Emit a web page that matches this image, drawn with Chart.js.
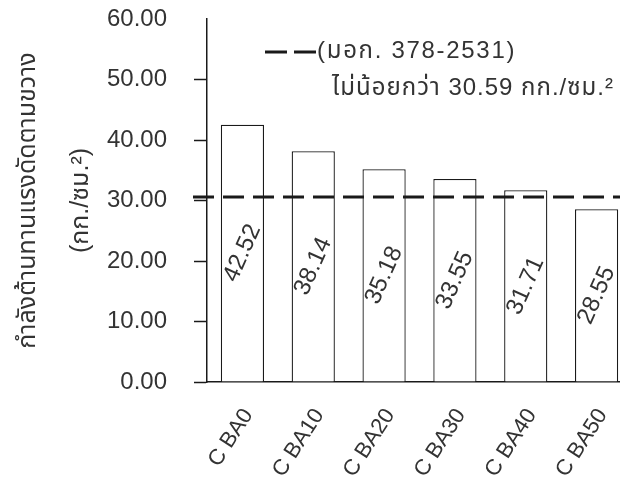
<!DOCTYPE html>
<html>
<head>
<meta charset="utf-8">
<script src="https://cdn.jsdelivr.net/npm/chart.js@4/dist/chart.umd.min.js"></script>
<style>
  html, body { margin: 0; padding: 0; background: #fff; overflow: hidden; }
  canvas { display: block; }
</style>
</head>
<body>
<canvas id="c" width="632" height="491"></canvas>
<script>
// Transverse (flexural) strength of the CBA mixes
const categories = ['C BA0', 'C BA10', 'C BA20', 'C BA30', 'C BA40', 'C BA50'];
const strengthValues = [42.52, 38.14, 35.18, 33.55, 31.71, 28.55];
const yTickValues = [0, 10, 20, 30, 40, 50, 60];
const standardValue = 30.59;
const standardName = '(มอก. 378-2531)';
const standardNote = 'ไม่น้อยกว่า ' + standardValue.toFixed(2) + ' กก./ซม.²';
const yTitleLines = ['กำลังต้านทานแรงดัดตามขวาง', '(กก./ซม.²)'];

const FONT = '"Liberation Sans", Arial, "Noto Sans Thai", sans-serif';
const TEXT = '#333';
const INK = '#1a1a1a';

// dashed standard-limit line across the plot
const standardLine = {
  id: 'standardLine',
  afterDatasetsDraw(chart) {
    const { ctx, chartArea, scales: { y } } = chart;
    const py = y.getPixelForValue(standardValue);
    ctx.save();
    ctx.strokeStyle = INK;
    ctx.lineWidth = 3;
    ctx.setLineDash([21, 9]);
    ctx.beginPath();
    ctx.moveTo(chartArea.left - 14, py);
    ctx.lineTo(chart.width, py);
    ctx.stroke();
    ctx.restore();
  }
};

// rotated value printed in the middle of each bar
const barValues = {
  id: 'barValues',
  afterDatasetsDraw(chart) {
    const { ctx } = chart;
    const meta = chart.getDatasetMeta(0);
    ctx.save();
    ctx.fillStyle = TEXT;
    ctx.font = '24px ' + FONT;
    ctx.textAlign = 'center';
    ctx.textBaseline = 'middle';
    meta.data.forEach((bar, i) => {
      const { x, y, base } = bar.getProps(['x', 'y', 'base'], true);
      ctx.save();
      ctx.translate(x, (y + base) / 2);
      ctx.rotate(-66 * Math.PI / 180);
      ctx.fillText(strengthValues[i].toFixed(2), 0, 0);
      ctx.restore();
    });
    ctx.restore();
  }
};

// legend for the standard line, top right of the plot
const standardLegend = {
  id: 'standardLegend',
  afterDraw(chart) {
    const { ctx, chartArea } = chart;
    const x0 = chartArea.left + 58;
    const yA = chartArea.top + 32;
    ctx.save();
    ctx.strokeStyle = INK;
    ctx.lineWidth = 3;
    ctx.setLineDash([22, 7]);
    ctx.beginPath();
    ctx.moveTo(x0, yA + 1);
    ctx.lineTo(x0 + 51, yA + 1);
    ctx.stroke();
    ctx.setLineDash([]);
    ctx.fillStyle = TEXT;
    ctx.font = '24px ' + FONT;
    ctx.textBaseline = 'middle';
    ctx.textAlign = 'left';
    ctx.letterSpacing = '1.7px';
    ctx.fillText(standardName, x0 + 52, yA);
    ctx.letterSpacing = '1px';
    ctx.fillText(standardNote, x0 + 67, yA + 37);
    ctx.restore();
  }
};

new Chart(document.getElementById('c'), {
  type: 'bar',
  data: {
    labels: categories,
    datasets: [{
      data: strengthValues,
      backgroundColor: '#fff',
      borderColor: INK,
      borderWidth: 1.3,
      borderSkipped: 'bottom',
      categoryPercentage: 1,
      barPercentage: 0.61
    }]
  },
  options: {
    responsive: false,
    animation: false,
    events: [],
    layout: { padding: { top: 19, left: 0, right: 0, bottom: 0 } },
    plugins: { legend: { display: false }, tooltip: { enabled: false } },
    scales: {
      x: {
        grid: { display: false, drawTicks: false },
        border: { display: true, color: INK, width: 1.5 },
        ticks: {
          color: TEXT,
          font: { family: FONT, size: 22 },
          minRotation: 57,
          maxRotation: 57,
          padding: 22,
          labelOffset: 6
        },
        afterFit(scale) {
          scale.height = 109;
          scale.paddingLeft = 0;
          scale.paddingRight = 0;
        }
      },
      y: {
        min: 0,
        max: 60,
        afterBuildTicks(scale) { scale.ticks = yTickValues.map(v => ({ value: v })); },
        grid: {
          drawOnChartArea: false,
          tickLength: 13,
          tickWidth: 1.5,
          tickColor: ctx => (ctx.tick && ctx.tick.value === 60) ? 'rgba(0,0,0,0)' : INK
        },
        border: { display: true, color: INK, width: 1.5 },
        ticks: {
          color: TEXT,
          font: { family: FONT, size: 24 },
          padding: 27,
          callback: v => Number(v).toFixed(2)
        },
        title: {
          display: true,
          text: yTitleLines,
          color: TEXT,
          font: { family: FONT, size: 25, lineHeight: 2.12 },
          padding: { top: 2, bottom: 0 }
        },
        afterFit(scale) {
          scale.width = 207;
          scale.paddingTop = 0;
          scale.paddingBottom = 0;
        }
      }
    }
  },
  plugins: [standardLine, barValues, standardLegend]
});
</script>
</body>
</html>
